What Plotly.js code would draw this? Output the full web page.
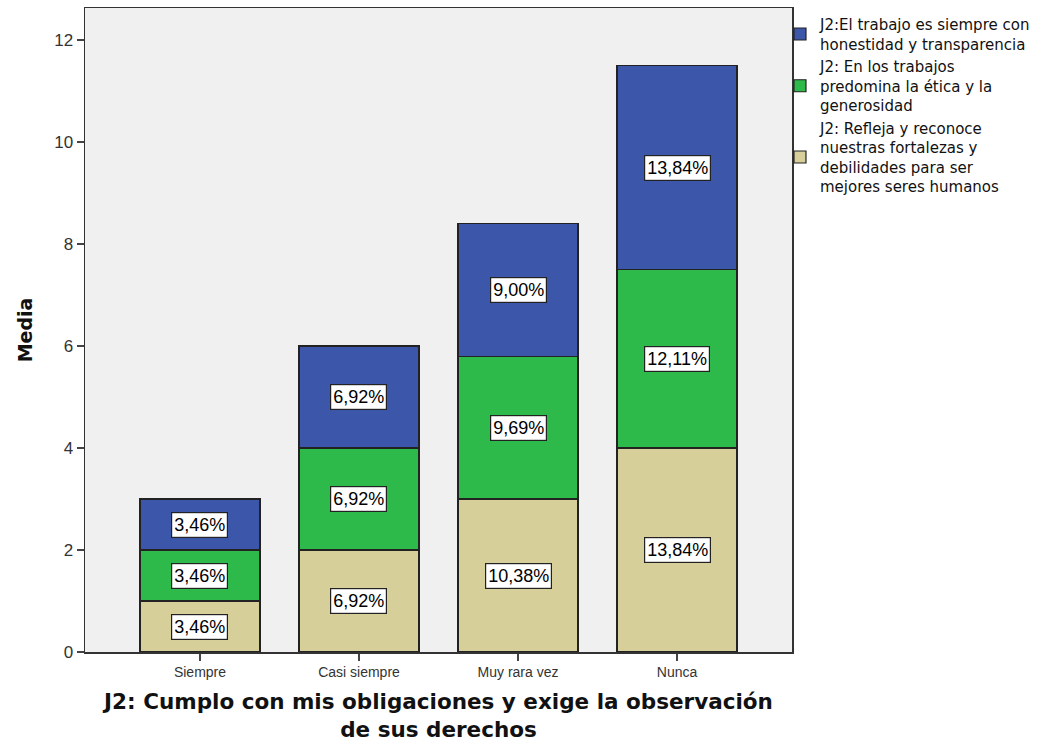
<!DOCTYPE html>
<html>
<head>
<meta charset="utf-8">
<script src="https://cdn.plot.ly/plotly-3.0.1.min.js"></script>
<style>
html,body{margin:0;padding:0;background:#fff;}
#chart{width:1054px;height:742px;}
</style>
</head>
<body>
<div id="chart"></div>
<script>
// ---- data ----
const categories = ["Siempre", "Casi siempre", "Muy rara vez", "Nunca"];
const seriesNames = [
  "J2: Refleja y reconoce<br>nuestras fortalezas y<br>debilidades para ser<br>mejores seres humanos",
  "J2: En los trabajos<br>predomina la ética y la<br>generosidad",
  "J2:El trabajo es siempre con<br>honestidad y transparencia"
];
const reflejaValues = [1, 2, 3, 4];
const eticaValues = [1, 2, 2.8, 3.5];
const honestidadValues = [1, 2, 2.6, 4];
const reflejaLabels = ["3,46%", "6,92%", "10,38%", "13,84%"];
const eticaLabels = ["3,46%", "6,92%", "9,69%", "12,11%"];
const honestidadLabels = ["3,46%", "6,92%", "9,00%", "13,84%"];
const yTicks = [0, 2, 4, 6, 8, 10, 12];
const xTitle = "J2: Cumplo con mis obligaciones y exige la observación<br>de sus derechos";
const yTitle = "Media";

// ---- styles ----
const colors = ["#d6cf99", "#2eb94b", "#3c56a9"];
const seriesValues = [reflejaValues, eticaValues, honestidadValues];
const seriesLabels = [reflejaLabels, eticaLabels, honestidadLabels];

const traces = seriesValues.map((vals, i) => ({
  type: "bar",
  name: seriesNames[i],
  x: categories,
  y: vals,
  width: 0.755,
  marker: {color: colors[i], line: {color: "#222", width: 1.2}},
  hoverinfo: "skip"
}));

// label annotations at middle of each stacked segment
const annotations = [];
categories.forEach((cat, ci) => {
  let base = 0;
  seriesValues.forEach((vals, si) => {
    annotations.push({
      x: cat, y: base + vals[ci] / 2, xref: "x", yref: "y",
      text: seriesLabels[si][ci], showarrow: false,
      font: {family: "Liberation Sans, Arial, sans-serif", size: 18, color: "#000"},
      bgcolor: "#ffffff", bordercolor: "#222", borderwidth: 1.2, borderpad: 2
    });
    base += vals[ci];
  });
});

const layout = {
  width: 1054, height: 742,
  margin: {l: 85, r: 262, t: 8, b: 90},
  paper_bgcolor: "#ffffff",
  plot_bgcolor: "#f0f0f0",
  barmode: "stack",
  showlegend: true,
  legend: {
    x: 0.983, xanchor: "left", y: 1.0, yanchor: "top",
    traceorder: "reversed",
    bgcolor: "rgba(0,0,0,0)",
    font: {family: "DejaVu Sans, sans-serif", size: 15, color: "#111"},
    itemclick: false, itemdoubleclick: false
  },
  xaxis: {
    type: "category",
    range: [-0.723, 3.723],
    showgrid: false, zeroline: false,
    showline: true, mirror: true, linecolor: "#333", linewidth: 1.5,
    ticks: "outside", ticklen: 7, tickwidth: 1.5, tickcolor: "#444",
    tickfont: {family: "Liberation Sans, Arial, sans-serif", size: 14, color: "#333"},
    title: {text: xTitle, standoff: 19,
      font: {family: "DejaVu Sans, sans-serif", size: 21.5, color: "#111", weight: "bold"}}
  },
  yaxis: {
    range: [0, 12.63],
    tickvals: yTicks,
    showgrid: false, zeroline: false,
    showline: true, mirror: true, linecolor: "#333", linewidth: 1.5,
    ticks: "outside", ticklen: 7, tickwidth: 1.5, tickcolor: "#444",
    tickfont: {family: "Liberation Sans, Arial, sans-serif", size: 17, color: "#333"},
    title: {text: yTitle, standoff: 16,
      font: {family: "DejaVu Sans, sans-serif", size: 19, color: "#111", weight: "bold"}}
  },
  annotations: annotations
};

Plotly.newPlot("chart", traces, layout, {staticPlot: true, displayModeBar: false});
</script>
</body>
</html>
